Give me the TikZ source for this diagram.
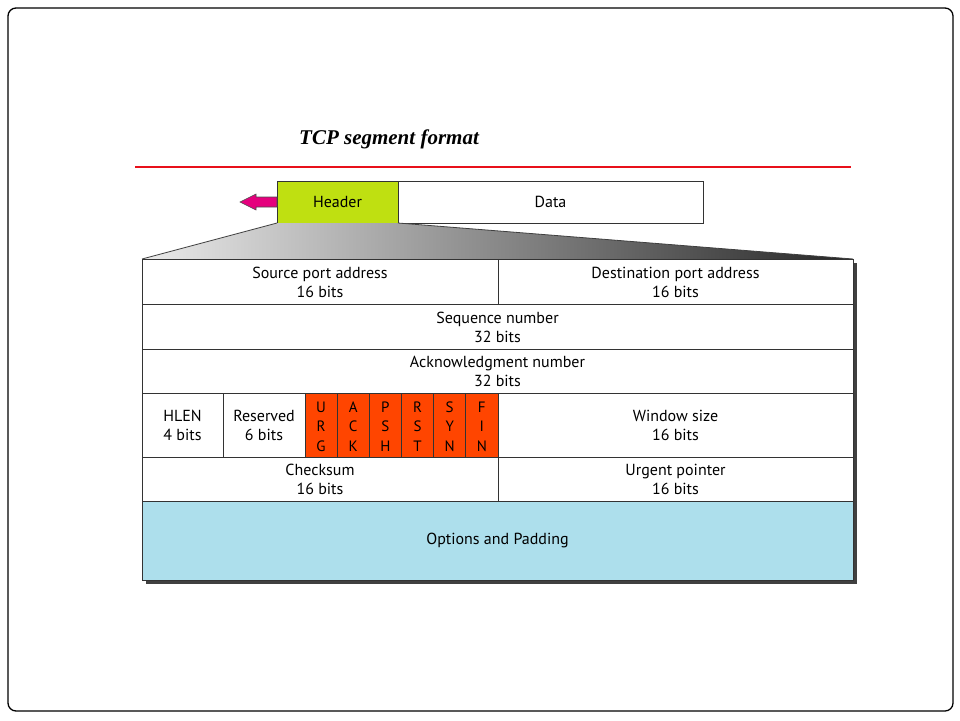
\documentclass[tikz,border=0pt]{standalone}
\usepackage{fontspec}
\setmainfont{PT Sans}
\newfontfamily\titlefont{Liberation Serif}
\usetikzlibrary{calc}
\definecolor{hdrgreen}{HTML}{BFE011}
\definecolor{flagred}{HTML}{FF4500}
\definecolor{optblue}{HTML}{ADDFEC}
\definecolor{arrowpink}{HTML}{E5007D}
\definecolor{rulered}{HTML}{E8101A}
\tikzset{
  field/.style={draw=black!80, line width=0.8pt},
  fieldtxt/.style={align=center, inner sep=0pt, font=\fontsize{16}{19}\selectfont},
  flagtxt/.style={inner sep=0pt, font=\fontsize{15}{15}\selectfont},
}
\begin{document}
\begin{tikzpicture}[x=1pt, y=-1pt]
    \useasboundingbox (0,0) rectangle (960,720);
    % slide frame
    \draw[line width=1.3pt, rounded corners=8pt] (8,8) rectangle (953,711);
    % title and rule
    \node[font=\titlefont\fontsize{21}{23}\selectfont\bfseries\itshape] (title) at (389,139) {TCP segment format};
    \draw[rulered, line width=1.3pt] (135,167) -- (851,167);
    % segment: header + data
    \filldraw[field, fill=hdrgreen] (277,181) rectangle (398,223);
    \draw[field] (398,181) rectangle (703,223);
    \node[fieldtxt] (hdr) at (337.5,202) {Header};
    \node[fieldtxt] (data) at (550.5,202) {Data};
    \filldraw[fill=arrowpink, draw=black!70, line width=0.6pt]
        (277,197) -- (256,197) -- (256,194) -- (240,202) -- (256,210) -- (256,207) -- (277,207) -- cycle;
    % zoom wedge
    \shade[left color=black!8, right color=black!85] (277,223) -- (398,223) -- (853,259) -- (142,259) -- cycle;
    \draw[black!75, line width=0.8pt] (277,223) -- (142,259);
    \draw[black!75, line width=0.8pt] (398,223) -- (853,259);
    % shadow
    \fill[black!75] (146,263) rectangle (857,584);
    % rows
    \filldraw[field, fill=white] (142,259) rectangle (853,501);
    \filldraw[field, fill=optblue] (142,501) rectangle (853,580);
    \draw[field] (498,259) -- (498,304);
    \draw[field] (142,304) -- (853,304);
    \draw[field] (142,349) -- (853,349);
    \draw[field] (142,393) -- (853,393);
    \draw[field] (142,457) -- (853,457);
    \draw[field] (498,457) -- (498,501);
    \draw[field] (223,393) -- (223,457);
    \filldraw[field, fill=flagred] (305,393) rectangle (498,457);
    \foreach \i in {1,...,5}
        \draw[field] ({305+\i*32.17},393) -- ({305+\i*32.17},457);
    \draw[field] (498,393) -- (498,457);
    % field labels
    \node[fieldtxt] (srcport) at (320,282) {Source port address\\16 bits};
    \node[fieldtxt] (dstport) at (675.5,282) {Destination port address\\16 bits};
    \node[fieldtxt] (seqno) at (497.5,327) {Sequence number\\32 bits};
    \node[fieldtxt] (ackno) at (497.5,371) {Acknowledgment number\\32 bits};
    \node[fieldtxt] (hlen) at (182.5,425) {HLEN\\4 bits};
    \node[fieldtxt] (resvd) at (264,425) {Reserved\\6 bits};
    \node[fieldtxt] (window) at (675.5,425) {Window size\\16 bits};
    \node[fieldtxt] (cksum) at (320,479) {Checksum\\16 bits};
    \node[fieldtxt] (urgptr) at (675.5,479) {Urgent pointer\\16 bits};
    \node[fieldtxt] (opts) at (497.5,540) {Options and Padding};
    % control flags
    \foreach \a/\b/\c [count=\k from 0] in {U/R/G, A/C/K, P/S/H, R/S/T, S/Y/N, F/I/N} {
        \node[flagtxt] (flag\k a) at ({321+\k*32.17},407) {\a};
        \node[flagtxt] (flag\k b) at ({321+\k*32.17},426) {\b};
        \node[flagtxt] (flag\k c) at ({321+\k*32.17},446) {\c};
    }
\end{tikzpicture}
\end{document}
